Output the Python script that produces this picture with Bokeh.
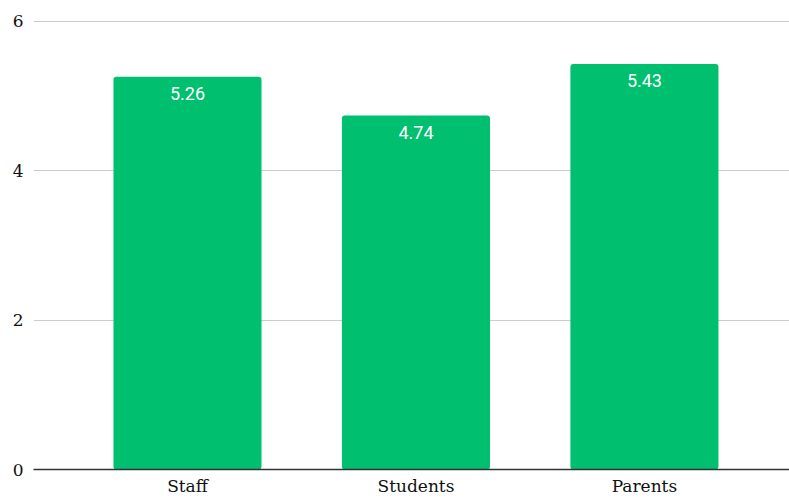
from bokeh.plotting import figure
from bokeh.models import Range1d, FixedTicker, ColumnDataSource
from bokeh.core.properties import value
from bokeh.embed import file_html
from bokeh.resources import INLINE

categories = ["Staff", "Students", "Parents"]
values = [5.26, 4.74, 5.43]
labels = ["5.26", "4.74", "5.43"]
y_ticks = [0, 2, 4, 6]

xs = list(range(len(categories)))
src = ColumnDataSource(dict(x=xs, top=values, label=labels))

p = figure(width=789, height=498, output_backend="svg", toolbar_location=None,
           x_range=Range1d(-0.674, 2.635), y_range=Range1d(0, 6.147),
           min_border_left=33, min_border_right=0, min_border_top=10,
           min_border_bottom=29)
p.outline_line_color = None
p.background_fill_color = "white"
p.border_fill_color = "white"

p.vbar(x="x", top="top", width=0.648, source=src, color="#00BF6F",
       line_color=None, border_radius=3)
p.text(x="x", y="top", text="label", source=src, text_color="white",
       text_font=value("Roboto"), text_font_size="18px", text_align="center",
       text_baseline="top", y_offset=10)

p.xgrid.grid_line_color = None
p.ygrid.grid_line_color = "#cccccc"
p.ygrid.grid_line_width = 1
p.ygrid.ticker = FixedTicker(ticks=y_ticks)

p.yaxis.ticker = FixedTicker(ticks=y_ticks)
p.yaxis.axis_line_color = None
p.yaxis.major_tick_line_color = None
p.yaxis.minor_tick_line_color = None
p.yaxis.major_label_text_font = "DejaVu Serif"
p.yaxis.major_label_text_font_size = "17px"
p.yaxis.major_label_text_color = "#111111"
p.yaxis.major_label_standoff = 4

p.xaxis.ticker = FixedTicker(ticks=xs)
p.xaxis.major_label_overrides = {i: c for i, c in enumerate(categories)}
p.xaxis.axis_line_color = "#333333"
p.xaxis.axis_line_width = 1.5
p.xaxis.major_tick_line_color = None
p.xaxis.minor_tick_line_color = None
p.xaxis.major_label_text_font = "DejaVu Serif"
p.xaxis.major_label_text_font_size = "17px"
p.xaxis.major_label_text_color = "#111111"
p.xaxis.major_label_standoff = 0

open("out.html", "w").write(file_html(p, INLINE))
